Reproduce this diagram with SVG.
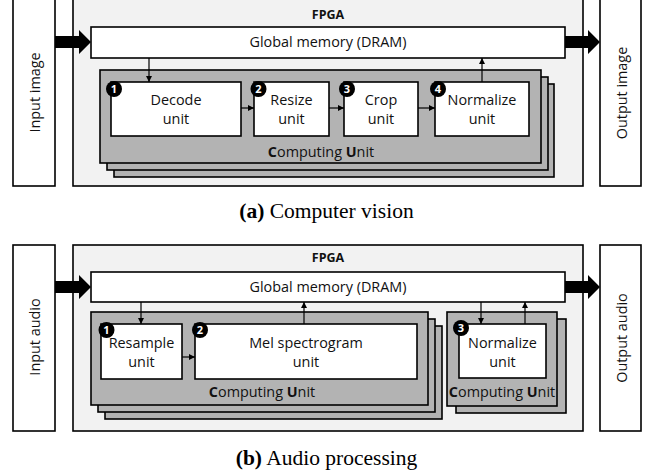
<svg xmlns="http://www.w3.org/2000/svg" width="649" height="471" viewBox="0 0 649 471">
<defs>
<marker id="ah" viewBox="0 0 6 6" refX="6" refY="3" markerWidth="6" markerHeight="6" markerUnits="userSpaceOnUse" orient="auto">
<path d="M0,0 L6,3 L0,6 Z" fill="#000"/>
</marker>
<style>
.box{fill:#fff;stroke:#000;stroke-width:1.6}
.fpga{fill:#f2f2f2;stroke:#000;stroke-width:1.6}
.cu{fill:#b3b3b3;stroke:#000;stroke-width:1.6}
.t{font-family:"Open Sans","Noto Sans",sans-serif;font-size:14.4px;fill:#111;text-anchor:middle}
.b{font-weight:bold}
.badge{fill:#000}
.bt{font-family:"Open Sans","Noto Sans",sans-serif;font-size:11px;font-weight:bold;fill:#fff;text-anchor:middle}
.ln{stroke:#000;stroke-width:1.2;fill:none;marker-end:url(#ah)}
.big{fill:#000}
.cap{font-family:"Liberation Serif","Times New Roman",serif;font-size:21.5px;fill:#000;text-anchor:middle}
</style>
</defs>

<!-- ===== (a) Computer vision ===== -->
<g id="input-image">
<rect class="box" x="13" y="-2" width="42" height="188"/>
<text class="t" transform="translate(40,92.5) rotate(-90)">Input image</text>
</g>
<g id="fpga-a">
<rect class="fpga" x="73" y="-2" width="510" height="188"/>
<text class="t b" x="328" y="19" style="font-size:12.5px">FPGA</text>
</g>
<g id="output-image">
<rect class="box" x="600" y="-2" width="41" height="188"/>
<text class="t" transform="translate(627,93) rotate(-90)">Output image</text>
</g>
<g id="global-memory-a">
<rect class="box" x="91" y="27" width="474" height="31"/>
<text class="t" x="328" y="47">Global memory (DRAM)</text>
</g>
<g id="computing-unit-a">
<rect class="cu" x="114" y="84" width="440" height="93"/>
<rect class="cu" x="107" y="77" width="441" height="93"/>
<rect class="cu" x="100" y="70" width="441" height="93"/>
<text class="t" x="321" y="157"><tspan class="b">C</tspan>omputing <tspan class="b">U</tspan>nit</text>
</g>
<g id="decode-unit">
<rect class="box" x="111" y="82" width="130" height="54"/>
<text class="t" x="176" y="105">Decode</text>
<text class="t" x="176" y="124">unit</text>
<circle class="badge" cx="114" cy="89" r="8"/>
<text class="bt" x="114" y="93">1</text>
</g>
<g id="resize-unit">
<rect class="box" x="254" y="82" width="75" height="54"/>
<text class="t" x="291.5" y="105">Resize</text>
<text class="t" x="291.5" y="124">unit</text>
<circle class="badge" cx="258.5" cy="89" r="8"/>
<text class="bt" x="258.5" y="93">2</text>
</g>
<g id="crop-unit">
<rect class="box" x="344" y="82" width="74" height="54"/>
<text class="t" x="381" y="105">Crop</text>
<text class="t" x="381" y="124">unit</text>
<circle class="badge" cx="347" cy="89" r="8"/>
<text class="bt" x="347" y="93">3</text>
</g>
<g id="normalize-unit-a">
<rect class="box" x="435" y="82" width="94" height="54"/>
<text class="t" x="482" y="105">Normalize</text>
<text class="t" x="482" y="124">unit</text>
<circle class="badge" cx="438" cy="89" r="8"/>
<text class="bt" x="438" y="93">4</text>
</g>

<!-- ===== (b) Audio processing ===== -->
<g id="input-audio">
<rect class="box" x="13" y="245" width="42" height="186"/>
<text class="t" transform="translate(40,337) rotate(-90)">Input audio</text>
</g>
<g id="fpga-b">
<rect class="fpga" x="73" y="245" width="510" height="186"/>
<text class="t b" x="328" y="262" style="font-size:12.5px">FPGA</text>
</g>
<g id="output-audio">
<rect class="box" x="600" y="245" width="41" height="186"/>
<text class="t" transform="translate(627,338) rotate(-90)">Output audio</text>
</g>
<g id="global-memory-b">
<rect class="box" x="91" y="272" width="474" height="30"/>
<text class="t" x="328" y="291.5">Global memory (DRAM)</text>
</g>
<g id="computing-unit-b1">
<rect class="cu" x="105" y="326" width="337" height="93"/>
<rect class="cu" x="98" y="319" width="337" height="93"/>
<rect class="cu" x="91" y="312" width="337" height="93"/>
<text class="t" x="262" y="397"><tspan class="b">C</tspan>omputing <tspan class="b">U</tspan>nit</text>
</g>
<g id="computing-unit-b2">
<rect class="cu" x="456" y="319" width="110" height="94"/>
<rect class="cu" x="447" y="312" width="110" height="94"/>
<text class="t" x="502" y="397"><tspan class="b">C</tspan>omputing <tspan class="b">U</tspan>nit</text>
</g>
<g id="resample-unit">
<rect class="box" x="101" y="324" width="81" height="55"/>
<text class="t" x="141.5" y="348">Resample</text>
<text class="t" x="141.5" y="367">unit</text>
<circle class="badge" cx="106.5" cy="330" r="8"/>
<text class="bt" x="106.5" y="334">1</text>
</g>
<g id="mel-spectrogram-unit">
<rect class="box" x="195" y="324" width="222" height="55"/>
<text class="t" x="306" y="348">Mel spectrogram</text>
<text class="t" x="306" y="367">unit</text>
<circle class="badge" cx="200" cy="330" r="8"/>
<text class="bt" x="200" y="334">2</text>
</g>
<g id="normalize-unit-b">
<rect class="box" x="459" y="324" width="87" height="54"/>
<text class="t" x="502.5" y="348">Normalize</text>
<text class="t" x="502.5" y="367">unit</text>
<circle class="badge" cx="461" cy="328" r="8"/>
<text class="bt" x="461" y="332">3</text>
</g>

<!-- connectors -->
<g id="connectors">
<polygon class="big" points="55,36 79,36 79,30 91,42 79,54 79,48 55,48"/>
<polygon class="big" points="565,36 588,36 588,30 600,42 588,54 588,48 565,48"/>
<path class="ln" d="M149,58 V82"/>
<path class="ln" d="M241,108 H254"/>
<path class="ln" d="M329,108 H344"/>
<path class="ln" d="M418,108 H435"/>
<path class="ln" d="M482,82 V58"/>

<polygon class="big" points="55,281 79,281 79,275 91,287 79,299 79,293 55,293"/>
<polygon class="big" points="565,281 588,281 588,275 600,287 588,299 588,293 565,293"/>
<path class="ln" d="M141,302 V324"/>
<path class="ln" d="M182,357 H195"/>
<path class="ln" d="M304,324 V302"/>
<path class="ln" d="M481,302 V324"/>
<path class="ln" d="M525,324 V302"/>
</g>

<text class="cap" x="326.5" y="218"><tspan font-weight="bold">(a)</tspan> Computer vision</text>
<text class="cap" x="326.5" y="465"><tspan font-weight="bold">(b)</tspan> Audio processing</text>
</svg>
